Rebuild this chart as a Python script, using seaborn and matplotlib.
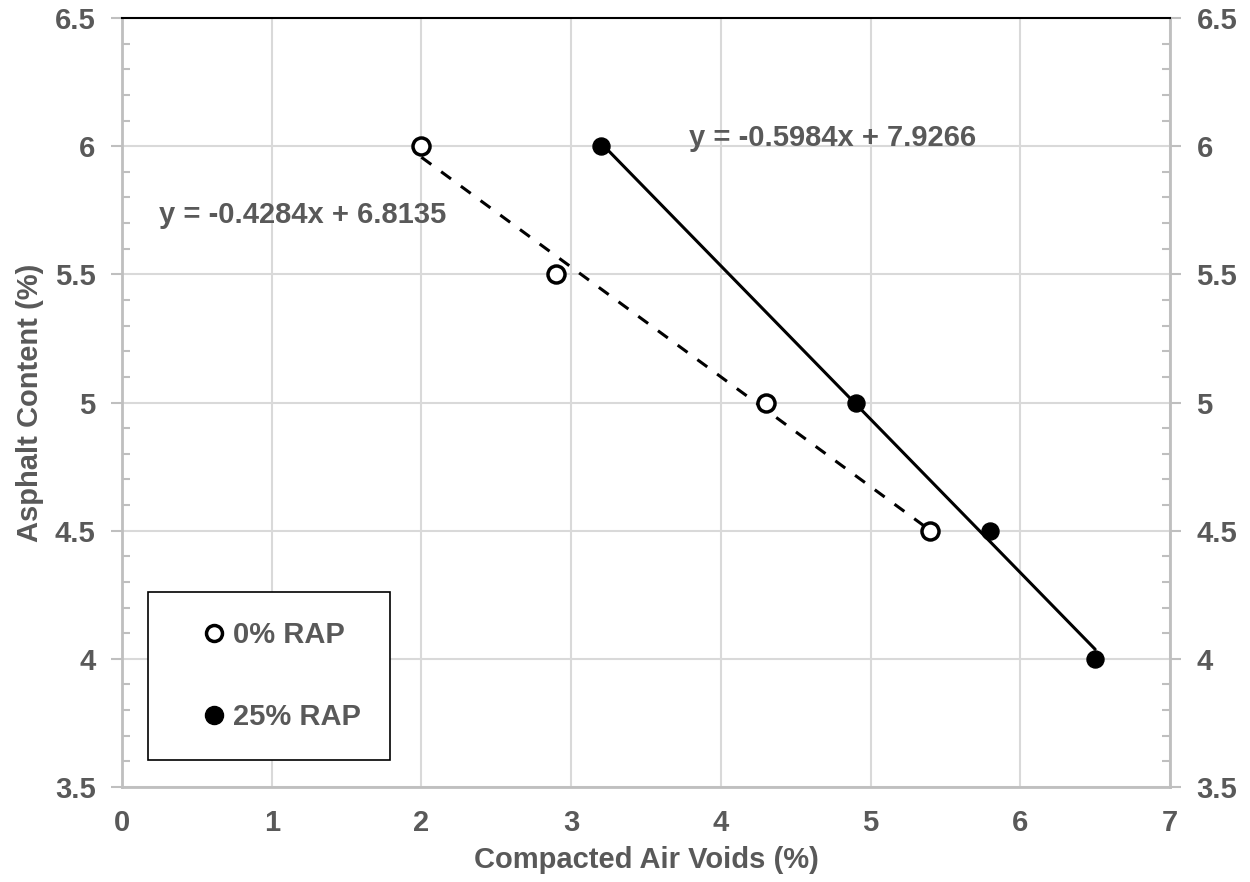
import numpy as np
import pandas as pd
import matplotlib
matplotlib.use("Agg")
import matplotlib.pyplot as plt
from matplotlib.lines import Line2D
from matplotlib.ticker import MultipleLocator
import seaborn as sns

# data
air_voids_0 = [2.0, 2.9, 4.3, 5.4]
asphalt_0 = [6.0, 5.5, 5.0, 4.5]
air_voids_25 = [3.2, 4.9, 5.8, 6.5]
asphalt_25 = [6.0, 5.0, 4.5, 4.0]
series_names = ["0% RAP", "25% RAP"]

sns.set_style("white")
plt.rcParams['font.family'] = ['Liberation Sans', 'DejaVu Sans']
plt.rcParams['font.weight'] = 'bold'
txt = '#595959'
grey = '#BFBFBF'
fs = 21

fig, ax = plt.subplots(figsize=(12.5, 8.82), dpi=100)
fig.subplots_adjust(left=0.0976, right=0.936, top=0.9796, bottom=0.1077)

# linear trendlines (same as Excel)
fits = []
for xs, ys, ls in [(air_voids_0, asphalt_0, (0, (4, 4))), (air_voids_25, asphalt_25, '-')]:
    m, b = np.polyfit(xs, ys, 1)
    fits.append((m, b))
    xl = np.array([min(xs), max(xs)])
    sns.lineplot(x=xl, y=m * xl + b, ax=ax, color='black', lw=2.2, linestyle=ls, zorder=3)

sns.scatterplot(x=air_voids_0, y=asphalt_0, ax=ax, s=150, facecolor='white',
                edgecolor='black', linewidth=2.5, zorder=4)
sns.scatterplot(x=air_voids_25, y=asphalt_25, ax=ax, s=150, color='black',
                edgecolor='black', linewidth=1, zorder=4)

ax.text(0.25, 5.73, f"y = {fits[0][0]:.4f}x + {fits[0][1]:.4f}", fontsize=fs,
        fontweight='bold', color=txt, va='center')
ax.text(3.79, 6.03, f"y = {fits[1][0]:.4f}x + {fits[1][1]:.4f}", fontsize=fs,
        fontweight='bold', color=txt, va='center')

ax.set_xlim(0, 7)
ax.set_ylim(3.5, 6.5)
ax.xaxis.set_major_locator(MultipleLocator(1))
ax.xaxis.set_minor_locator(MultipleLocator(0.2))
ax.yaxis.set_major_locator(MultipleLocator(0.5))
ax.yaxis.set_minor_locator(MultipleLocator(0.1))
ax.yaxis.set_major_formatter(matplotlib.ticker.FuncFormatter(lambda v, p: f"{v:g}"))
ax.grid(True, which='major', color='#D9D9D9', lw=1.5)
ax.set_axisbelow(True)

ax.yaxis.set_ticks_position('both')
ax.tick_params(axis='y', which='major', direction='out', length=8, width=1.5, color=grey,
               labelsize=fs, labelcolor=txt, pad=11, labelright=True)
ax.tick_params(axis='y', which='minor', direction='in', length=6, width=1.5, color=grey)
ax.tick_params(axis='x', which='major', direction='out', length=8, width=1.5, color=grey,
               labelsize=fs, labelcolor=txt, pad=8)
ax.tick_params(axis='x', which='minor', direction='in', length=6, width=1.5, color=grey)

for s in ['left', 'right', 'bottom']:
    ax.spines[s].set_color(grey)
    ax.spines[s].set_linewidth(2)
ax.spines['top'].set_color('black')
ax.spines['top'].set_linewidth(1.5)

ax.set_xlabel("Compacted Air Voids (%)", fontsize=fs, fontweight='bold', color=txt, labelpad=6)
ax.set_ylabel("Asphalt Content (%)", fontsize=fs, fontweight='bold', color=txt, labelpad=8)

handles = [Line2D([], [], marker='o', ls='none', markersize=11.5, markerfacecolor='white',
                  markeredgecolor='black', markeredgewidth=2.5),
           Line2D([], [], marker='o', ls='none', markersize=13, markerfacecolor='black',
                  markeredgecolor='black')]
leg = ax.legend(handles, series_names, loc='lower left', bbox_to_anchor=(0.025, 0.035),
                frameon=True, fancybox=False, edgecolor='black', framealpha=1,
                prop={'size': fs, 'weight': 'bold'}, labelspacing=1.85, handletextpad=-0.6,
                borderpad=1.0, borderaxespad=0, handlelength=2.5)
leg.get_frame().set_linewidth(1.2)
leg.get_frame().set_boxstyle('square', pad=0)
for t in leg.get_texts():
    t.set_color(txt)

fig.savefig("out.png", dpi=100)
